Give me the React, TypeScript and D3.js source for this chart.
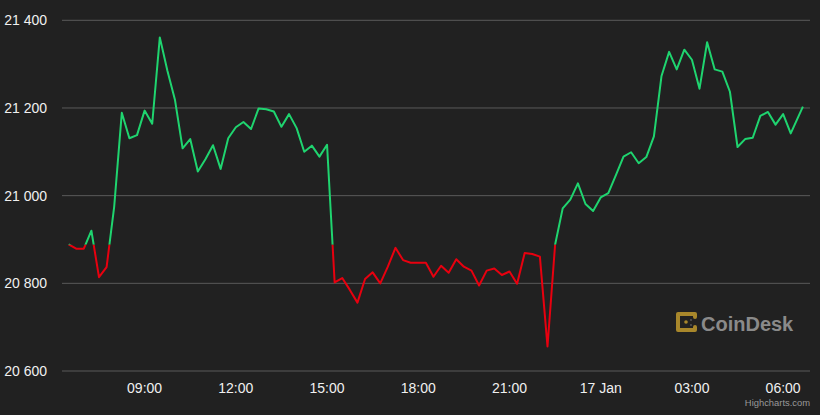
import React from "react";
import * as d3 from "d3";

// ---- data ----
const startTime = Date.UTC(2023, 0, 16, 6, 30); // first quote
const intervalMinutes = 15;
const finalTime = Date.UTC(2023, 0, 17, 6, 39); // latest quote
const prices: number[] = [
  20889, 20879, 20879, 20920, 20814, 20837, 20975, 21189, 21131, 21138,
  21194, 21164, 21361, 21285, 21218, 21108, 21129, 21055, 21083, 21115,
  21061, 21131, 21156, 21168, 21152, 21199, 21197, 21192, 21157, 21186,
  21154, 21100, 21114, 21089, 21116, 20802, 20812, 20785, 20756, 20810,
  20825, 20800, 20838, 20881, 20853, 20847, 20847, 20847, 20815, 20840,
  20824, 20855, 20838, 20829, 20795, 20829, 20834, 20819, 20827, 20799,
  20869, 20867, 20861, 20656, 20888, 20971, 20991, 21028, 20981, 20965,
  20996, 21006, 21047, 21089, 21099, 21074, 21088, 21135, 21273, 21328,
  21288, 21333, 21310, 21244, 21350, 21288, 21283, 21237, 21111, 21129,
  21132, 21182, 21191, 21162, 21186, 21142, 21203,
];
const threshold = 20888;
const yTicks: number[] = [20600, 20800, 21000, 21200, 21400];
const yDomain: [number, number] = [20600, 21400];
const xDomain: [Date, Date] = [
  new Date(Date.UTC(2023, 0, 16, 6, 17)),
  new Date(Date.UTC(2023, 0, 17, 6, 53)),
];

const points = prices.map((v, i) => ({
  t: new Date(i < prices.length - 1 ? startTime + i * intervalMinutes * 60000 : finalTime),
  v,
}));

const W = 820;
const H = 415;
const FONT = "'Liberation Sans', Arial, Helvetica, sans-serif";
const GOLD = "#a8872b";

export default function App() {
  const x = d3.scaleUtc().domain(xDomain).range([62, 810]);
  const y = d3.scaleLinear().domain(yDomain).range([371, 20.3]);
  const line = d3
    .line<{ t: Date; v: number }>()
    .x((d) => x(d.t))
    .y((d) => y(d.v));
  const path = line(points) || "";
  const ty = y(threshold);
  const xTicks = x.ticks(d3.utcHour.every(3)!);
  const fmtX = (d: Date) =>
    d.getUTCHours() === 0 ? d3.utcFormat("%-d %b")(d) : d3.utcFormat("%H:%M")(d);
  const fmtY = (v: number) => d3.format(",")(v).replace(",", " ");

  return (
    <svg
      width={W}
      height={H}
      style={{ position: "absolute", left: 0, top: 0, fontFamily: FONT }}
    >
      <defs>
        <clipPath id="above">
          <rect x={0} y={0} width={W} height={ty} />
        </clipPath>
        <clipPath id="below">
          <rect x={0} y={ty} width={W} height={H - ty} />
        </clipPath>
      </defs>
      <rect x={0} y={0} width={W} height={H} fill="#212121" />
      {yTicks.map((v) => (
        <g key={v}>
          <line x1={62} x2={810} y1={y(v)} y2={y(v)} stroke="#5a5a5a" strokeWidth={1} />
          <text
            x={47}
            y={y(v) + 5}
            textAnchor="end"
            fontSize={14}
            fill="#f0f0f0"
          >
            {fmtY(v)}
          </text>
        </g>
      ))}
      {xTicks.map((d) => (
        <text
          key={d.getTime()}
          x={x(d)}
          y={393}
          textAnchor="middle"
          fontSize={14}
          fill="#f0f0f0"
        >
          {fmtX(d)}
        </text>
      ))}
      {/* CoinDesk watermark */}
      <g>
        <path
          d="M695,317 V314 H678 V330 H695 V327"
          fill="none"
          stroke={GOLD}
          strokeWidth={4}
          strokeLinecap="round"
          strokeLinejoin="round"
        />
        <circle cx={686} cy={322} r={1.8} fill={GOLD} />
        <circle cx={691} cy={320} r={0.9} fill="#5c5c5c" />
        <circle cx={691} cy={325} r={0.9} fill="#5c5c5c" />
        <text x={701} y={331} fontSize={20} fontWeight="bold" fill="#8a8a8a">
          CoinDesk
        </text>
      </g>
      <path
        d={path}
        fill="none"
        stroke="#1fd46f"
        strokeWidth={2}
        strokeLinejoin="round"
        clipPath="url(#above)"
      />
      <path
        d={path}
        fill="none"
        stroke="#e8000f"
        strokeWidth={2}
        strokeLinejoin="round"
        clipPath="url(#below)"
      />
      <text x={810} y={406} textAnchor="end" fontSize={9.4} fill="#999999">
        Highcharts.com
      </text>
    </svg>
  );
}
